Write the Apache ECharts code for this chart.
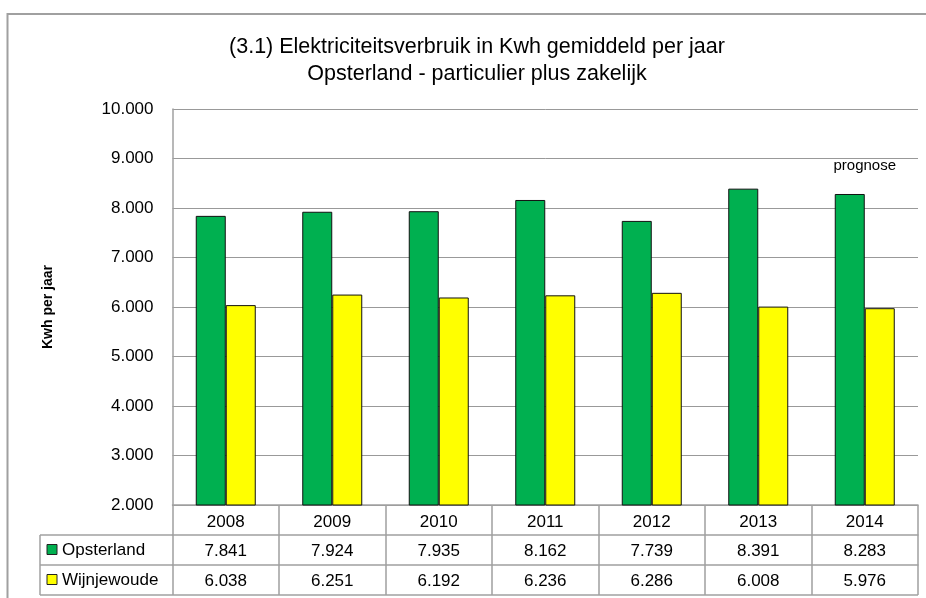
<!DOCTYPE html>
<html>
<head>
<meta charset="utf-8">
<script src="https://cdn.jsdelivr.net/npm/echarts@6/dist/echarts.min.js"></script>
<style>html,body{margin:0;padding:0;background:#fff}#c{width:926px;height:598px}</style>
</head>
<body>
<div id="c"></div>
<script>
const years = ['2008','2009','2010','2011','2012','2013','2014'];
const opsterland = [7841, 7924, 7935, 8162, 7739, 8391, 8283];
const wijnjewoude = [6038, 6251, 6192, 6236, 6286, 6008, 5976];
const seriesNames = ['Opsterland', 'Wijnjewoude'];
const seriesColors = ['#00B050', '#FFFF00'];
const titleLines = ['(3.1) Elektriciteitsverbruik in Kwh gemiddeld per jaar', 'Opsterland - particulier plus zakelijk'];
const yTitle = 'Kwh per jaar';
const note = 'prognose';

const FONT = 'Liberation Sans';
const GRID = '#999999';
const TBL = '#a0a0a0';
function nl(v){ return String(Math.round(v)).replace(/\B(?=(\d{3})+(?!\d))/g, '.'); }

const chart = echarts.init(document.getElementById('c'), null, {renderer:'canvas'});

function tableAxis(data, offset){
  return {
    type:'category', gridIndex:0, position:'bottom', offset: offset, data: data,
    axisLine:{show:true, lineStyle:{color:TBL, width:1.5}},
    axisTick:{show:true, length:30, interval:0, lineStyle:{color:TBL, width:1.5}},
    axisLabel:{show:true, interval:0, margin:8, fontFamily:FONT, fontSize:17, color:'#000'},
    splitLine:{show:false}
  };
}

const legendGraphics = [];
seriesNames.forEach((n,i)=>{
  const yc = 550 + i*30;
  legendGraphics.push({type:'rect', shape:{x:47, y:yc-5.5, width:10, height:10}, style:{fill:seriesColors[i], stroke:'#222', lineWidth:1}});
  legendGraphics.push({type:'text', x:62, y:yc, style:{text:n, fontFamily:FONT, fontSize:17, fill:'#000', verticalAlign:'middle', align:'left'}});
});

chart.setOption({
  backgroundColor:'#fff',
  animation:false,
  title:{
    text: titleLines.join('\n'),
    left: 472, top: 29, textAlign:'center',
    textStyle:{fontFamily:FONT, fontSize:21.5, fontWeight:'normal', color:'#000', lineHeight:27}
  },
  grid:{left:172.5, right:8, top:109, bottom:93, containLabel:false},
  xAxis:[
    {
      type:'category', data: years,
      axisLine:{show:true, lineStyle:{color:TBL, width:1.5}},
      axisTick:{show:true, length:30, interval:0, lineStyle:{color:TBL, width:1.5}},
      axisLabel:{interval:0, margin:9, fontFamily:FONT, fontSize:17, color:'#000'},
      splitLine:{show:false}
    },
    tableAxis(opsterland.map(nl), 30),
    tableAxis(wijnjewoude.map(nl), 60)
  ],
  yAxis:{
    type:'value', min:2000, max:10000, interval:1000,
    axisLine:{show:true, lineStyle:{color:TBL, width:1.5}},
    axisTick:{show:false},
    axisLabel:{formatter:nl, margin:19, fontFamily:FONT, fontSize:17, color:'#000'},
    splitLine:{show:true, lineStyle:{color:GRID, width:1}},
    name: yTitle, nameLocation:'middle', nameRotate:90, nameGap:117,
    nameTextStyle:{fontFamily:FONT, fontSize:14, fontWeight:'bold', color:'#000'}
  },
  series:[
    {
      type:'bar', name:seriesNames[0], data:opsterland, xAxisIndex:0,
      barWidth:30, barGap:'0%',
      itemStyle:{color:seriesColors[0], borderColor:'#111', borderWidth:1},
      markPoint:{
        symbol:'circle', symbolSize:0,
        data:[{coord:[6, 8890], value:note}],
        label:{show:true, formatter:note, position:'inside', offset:[15,2], fontFamily:FONT, fontSize:15, color:'#000'}
      }
    },
    {
      type:'bar', name:seriesNames[1], data:wijnjewoude, xAxisIndex:0,
      barWidth:30, barGap:'0%',
      itemStyle:{color:seriesColors[1], borderColor:'#111', borderWidth:1}
    }
  ],
  graphic:[
    {type:'polyline', shape:{points:[[7.5,598],[7.5,14],[926,14]]}, style:{stroke:'#a0a0a0', lineWidth:2, fill:null}},
    {type:'line', shape:{x1:40, y1:535, x2:173, y2:535}, style:{stroke:TBL, lineWidth:1.5}},
    {type:'line', shape:{x1:40, y1:565, x2:173, y2:565}, style:{stroke:TBL, lineWidth:1.5}},
    {type:'line', shape:{x1:40, y1:595, x2:918, y2:595}, style:{stroke:TBL, lineWidth:1.5}},
    {type:'line', shape:{x1:40, y1:535, x2:40, y2:595}, style:{stroke:TBL, lineWidth:1.5}}
  ].concat(legendGraphics)
});
</script>
</body>
</html>
